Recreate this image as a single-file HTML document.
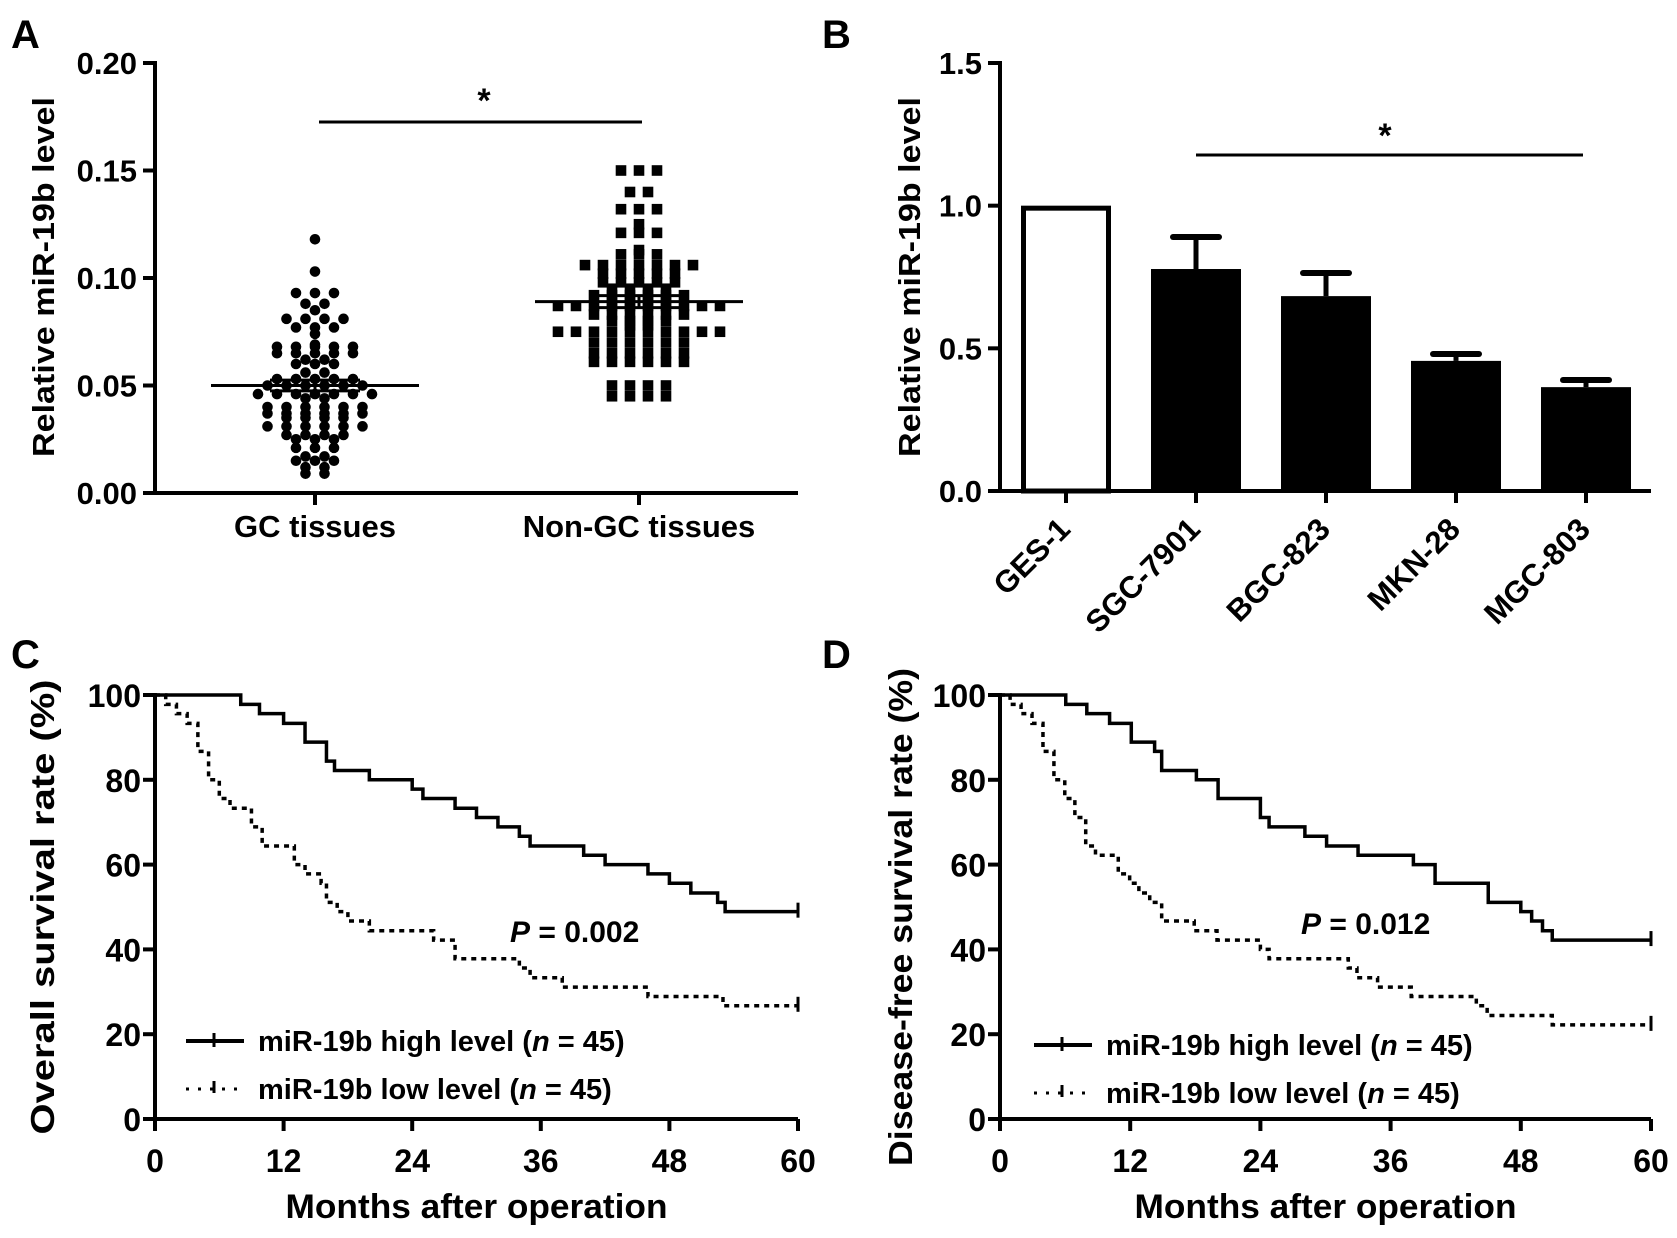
<!DOCTYPE html>
<html><head><meta charset="utf-8"><style>
html,body{margin:0;padding:0;background:#fff}
svg{display:block}
text{font-family:"Liberation Sans",Arial,sans-serif;font-weight:bold;fill:#000}
</style></head><body>
<svg id="fig" width="1677" height="1238" viewBox="0 0 1677 1238" xmlns="http://www.w3.org/2000/svg"></svg>
<script>
// ---- Panel A data ----
const gcValues=[0.118,0.103,0.093,0.093,0.093,0.088,0.088,0.085,0.081,0.081,0.081,0.081,0.077,0.077,0.077,0.074,0.069,0.068,0.068,0.068,0.068,0.068,0.065,0.065,0.065,0.065,0.065,0.062,0.062,0.060,0.060,0.060,0.056,0.056,0.053,0.053,0.053,0.053,0.053,0.050,0.050,0.050,0.050,0.050,0.050,0.046,0.046,0.046,0.046,0.046,0.046,0.046,0.044,0.044,0.040,0.040,0.040,0.040,0.040,0.040,0.037,0.037,0.037,0.037,0.037,0.037,0.035,0.035,0.035,0.035,0.031,0.031,0.031,0.031,0.031,0.031,0.027,0.027,0.027,0.027,0.025,0.025,0.025,0.021,0.021,0.021,0.017,0.017,0.015,0.015,0.015,0.012,0.012,0.009,0.009];
const nonGcValues=[0.150,0.150,0.150,0.140,0.140,0.132,0.132,0.132,0.125,0.121,0.121,0.121,0.113,0.111,0.111,0.111,0.106,0.106,0.106,0.106,0.106,0.106,0.106,0.102,0.102,0.102,0.102,0.102,0.098,0.098,0.098,0.098,0.098,0.095,0.095,0.095,0.095,0.092,0.092,0.092,0.092,0.092,0.092,0.089,0.089,0.089,0.089,0.087,0.087,0.087,0.087,0.087,0.087,0.087,0.087,0.087,0.087,0.083,0.083,0.083,0.083,0.083,0.083,0.080,0.080,0.080,0.080,0.078,0.078,0.075,0.075,0.075,0.075,0.075,0.075,0.075,0.075,0.075,0.075,0.070,0.070,0.070,0.070,0.070,0.070,0.065,0.065,0.065,0.065,0.065,0.065,0.061,0.061,0.061,0.061,0.061,0.061,0.050,0.050,0.050,0.050,0.045,0.045,0.045,0.045];
const groupNames=["GC tissues","Non-GC tissues"];
const groupMeans=[0.050,0.089];
const groupSem=[0.0025,0.0028];
const aTicks=["0.00","0.05","0.10","0.15","0.20"];
// ---- Panel B data ----
const cellLines=["GES-1","SGC-7901","BGC-823","MKN-28","MGC-803"];
const cellValues=[1.0,0.778,0.683,0.456,0.364];
const cellErr=[0,0.112,0.081,0.024,0.025];
const bTicks=["0.0","0.5","1.0","1.5"];
// ---- Panel C data ----
const cHighT=[8,9.75,12,14,16,16.75,20,24,25,28,30,32,34,35,40,42,46,48,50,52.5,53.2];
const cHighS=[97.8,95.6,93.3,88.9,84.4,82.2,80,77.8,75.6,73.3,71.1,68.9,66.7,64.4,62.2,60,57.8,55.6,53.3,51.1,48.9];
const cLowT=[1,2,3,4,5,6,7,9,10,13,14,15.5,16,17,18,20,26,28,34,35,38,46,53];
const cLowS=[97.8,95.6,93.3,86.7,80,75.6,73.3,68.9,64.4,60,57.8,55.6,51.1,48.9,46.7,44.4,42.2,37.8,35.6,33.3,31.1,28.9,26.7];
// ---- Panel D data ----
const dHighT=[6.06,8,10.1,12.1,14.25,14.9,18.1,20.1,24,24.8,28.1,30.1,33,38.1,40.1,45,48,49,50,50.9];
const dHighS=[97.8,95.6,93.3,88.9,86.7,82.2,80,75.6,71.1,68.9,66.7,64.4,62.2,60,55.6,51.1,48.9,46.7,44.4,42.2];
const dLowT=[0.93,1.94,2.95,3.96,4.97,5.97,6.9,7.9,8.8,10.9,11.95,12.8,13.8,14.9,17.9,20,24,24.8,32.1,32.9,34.8,37.9,43.9,44.9,50.9];
const dLowS=[97.8,95.6,93.3,86.7,80,75.6,71.1,64.4,62.2,57.8,55.6,53.3,51.1,46.7,44.4,42.2,40,37.8,35.6,33.3,31.1,28.9,26.7,24.4,22.2];
const kmTicks=["0","12","24","36","48","60"];
const kmYTicks=["0","20","40","60","80","100"];

const NS="http://www.w3.org/2000/svg";
const svg=document.getElementById('fig');
function el(tag,attrs,parent,txt){const e=document.createElementNS(NS,tag);for(const k in attrs)e.setAttribute(k,attrs[k]);if(txt!==undefined)e.textContent=txt;(parent||svg).appendChild(e);return e;}
function grp(name){const g=el('g',{});


return g;}
function line(p,x1,y1,x2,y2,w,name){const l=el('line',{x1,y1,x2,y2,stroke:'#000','stroke-width':w||4},p);


return l;}
function txt(p,x,y,s,size,anchor,name,extra){const t=el('text',Object.assign({x,y,'font-size':size,'text-anchor':anchor||'start'},extra||{}),p,s);


return t;}

// panel letters
[["A",11,48],["B",822,48],["C",11,668],["D",822,668]].forEach(d=>{const g=grp('panel-label-'+d[0].toLowerCase());txt(g,d[1],d[2],d[0],40,'start','panel-letter');});

// ===== Panel A =====
(function(){
const g=grp('panel-a-scatter');
const X0=155,X1=798,Y0=493,Y1=63;
const ys=v=>Y0-(v/0.2)*(Y0-Y1);
const cx=[315,639];
line(g,X0,Y1-2,X0,Y0+2,4,'y-axis');
line(g,X0-2,Y0,X1,Y0,4,'x-axis');
aTicks.forEach((t,i)=>{const v=parseFloat(t);const y=ys(v);line(g,X0-12,y,X0,y,4,'y-tick');txt(g,137,y+11,t,31,'end','y-tick-label');});
cx.forEach((x,i)=>{line(g,x,Y0,x,Y0+12,4,'x-tick');txt(g,x,537,groupNames[i],31,'middle','x-category-label');});
txt(g,0,0,"Relative miR-19b level",31,'middle','y-axis-title',{transform:'translate(54,277) rotate(-90)',textLength:360,lengthAdjust:'spacingAndGlyphs'});
// swarm
[gcValues,nonGcValues].forEach((vals,gi)=>{
 const bins={};vals.forEach(v=>{const k=Math.round(v*1000);(bins[k]=bins[k]||[]).push(v);});
 Object.keys(bins).forEach(k=>{const arr=bins[k];const n=arr.length;arr.forEach((v,j)=>{
   const off=(j-(n-1)/2)*(gi===0?19:18);const x=cx[gi]+off;const y=ys(v);
   let m;
   if(gi===0){m=el('circle',{cx:x,cy:y,r:5.3,fill:'#000'},g);}
   else{m=el('rect',{x:x-5.3,y:y-5.3,width:10.6,height:10.6,fill:'#000'},g);}
   
   
 });});
});
groupMeans.forEach((m,i)=>{line(g,cx[i]-104,ys(m),cx[i]+104,ys(m),3,'mean-line');
 line(g,cx[i]-45,ys(m+groupSem[i]),cx[i]+45,ys(m+groupSem[i]),3,'sem-line');
 line(g,cx[i]-45,ys(m-groupSem[i]),cx[i]+45,ys(m-groupSem[i]),3,'sem-line');
 line(g,cx[i],ys(m+groupSem[i]),cx[i],ys(m-groupSem[i]),3,'sem-line');});
line(g,cx[0]+4,122,cx[1]+3,122,3,'significance-bar');
txt(g,484,112,"*",34,'middle','significance-star');
})();

// ===== Panel B =====
(function(){
const g=grp('panel-b-bars');
const X0=1000,X1=1651,Y0=491,Y1=63;
const ys=v=>Y0-(v/1.5)*(Y0-Y1);
const xs=i=>1066+i*130;
line(g,X0,Y1-2,X0,Y0+2,4,'y-axis');
bTicks.forEach(t=>{const y=ys(parseFloat(t));line(g,X0-12,y,X0,y,4,'y-tick');txt(g,982,y+11,t,31,'end','y-tick-label');});
txt(g,0,0,"Relative miR-19b level",31,'middle','y-axis-title',{transform:'translate(920,277) rotate(-90)',textLength:360,lengthAdjust:'spacingAndGlyphs'});
cellValues.forEach((v,i)=>{const x=xs(i);const w=90;
 let b;
 if(i===0){b=el('rect',{x:x-w/2+2.5,y:ys(v)+2.5,width:w-5,height:Y0-ys(v)-2.5,fill:'#fff',stroke:'#000','stroke-width':5},g);}
 else{b=el('rect',{x:x-w/2,y:ys(v),width:w,height:Y0-ys(v),fill:'#000'},g);}
 
 
 if(cellErr[i]>0){line(g,x,ys(v),x,ys(v+cellErr[i]),5,'error-bar');
  const c=el('line',{x1:x-23,y1:ys(v+cellErr[i]),x2:x+23,y2:ys(v+cellErr[i]),stroke:'#000','stroke-width':6,'stroke-linecap':'round'},g);
  
  }
 line(g,x,Y0,x,Y0+12,4,'x-tick');
 txt(g,0,0,cellLines[i],31,'end','x-category-label',{transform:`translate(${x+6},${Y0+40}) rotate(-45)`});
});
line(g,X0-2,Y0,X1,Y0,4,'x-axis');
line(g,1196,155,1583,155,3,'significance-bar');
txt(g,1385,147,"*",34,'middle','significance-star');
})();

// ===== KM panels =====
function km(name,X0,X1,ytitle,ytitleX,tLen,hiT,hiS,loT,loS,pText,pX,pY,legX,legY1,legY2){
const g=grp(name);
const Y0=1119,Y1=695;
const xs=m=>X0+m/60*(X1-X0);
const ys=v=>Y0-v/100*(Y0-Y1);
line(g,X0,Y1-2,X0,Y0+2,4,'y-axis');
line(g,X0-2,Y0,X1,Y0,4,'x-axis');
kmYTicks.forEach(t=>{const y=ys(+t);line(g,X0-12,y,X0,y,4,'y-tick');txt(g,X0-14,y+12,t,32,'end','y-tick-label');});
kmTicks.forEach(t=>{const x=xs(+t);line(g,x,Y0,x,Y0+12,4,'x-tick');txt(g,x,1172,t,32,'middle','x-tick-label');});
txt(g,(X0+X1)/2,1218,"Months after operation",34,'middle','x-axis-title',{textLength:382,lengthAdjust:'spacingAndGlyphs'});
txt(g,0,0,ytitle,33,'middle','y-axis-title',{transform:`translate(${ytitleX},${(Y1+Y0)/2+(tLen>470?10:0)}) rotate(-90)`,textLength:tLen,lengthAdjust:'spacingAndGlyphs'});
function path(T,S,dash,nm){let d=`M${xs(0)},${ys(100)}`;let cur=100;T.forEach((t,i)=>{d+=` H${xs(t)} V${ys(S[i])}`;cur=S[i];});d+=` H${xs(60)}`;
 const p=el('path',{d,fill:'none',stroke:'#000','stroke-width':3.5,'stroke-dasharray':dash?'5 5':'none'},g);
 
 
 line(g,xs(60),ys(cur)-9,xs(60),ys(cur)+6,3,'censor-tick');}
path(hiT,hiS,false,'high-level-curve');
path(loT,loS,true,'low-level-curve');
const pt=txt(g,pX,pY,"",30,'start','p-value');
el('tspan',{'font-style':'italic'},pt,"P");el('tspan',{},pt," = "+pText);
// legend
const l1=grp('legend-high');g.appendChild(l1);
line(l1,legX,legY1-10,legX+58,legY1-10,4,'legend-line-high');line(l1,legX+28,legY1-18,legX+28,legY1-4,3,'legend-marker');
const t1=txt(l1,legX+72,legY1,"miR-19b high level (",29,'start','legend-label-high');
el('tspan',{'font-style':'italic'},t1,"n");el('tspan',{},t1," = 45)");
const l2=grp('legend-low');g.appendChild(l2);
const dl=el('line',{x1:legX,y1:legY2-10,x2:legX+58,y2:legY2-10,stroke:'#000','stroke-width':3,'stroke-dasharray':'3 9'},l2);


line(l2,legX+28,legY2-18,legX+28,legY2-6,3,'legend-marker');
const t2=txt(l2,legX+72,legY2,"miR-19b low level (",29,'start','legend-label-low');
el('tspan',{'font-style':'italic'},t2,"n");el('tspan',{},t2," = 45)");
}
km('panel-c-overall-survival',155,798,"Overall survival rate (%)",54,455,cHighT,cHighS,cLowT,cLowS,"0.002",510,942,186,1051,1099);
km('panel-d-disease-free-survival',1000,1651,"Disease-free survival rate (%)",912,498,dHighT,dHighS,dLowT,dLowS,"0.012",1301,934,1034,1055,1103);
</script>
</body></html>
